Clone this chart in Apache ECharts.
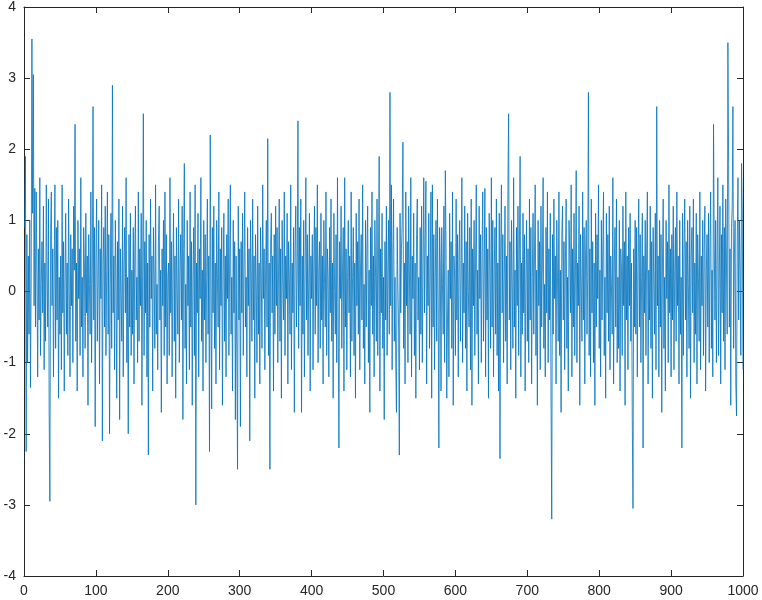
<!DOCTYPE html>
<html>
<head>
<meta charset="utf-8">
<script src="https://cdn.jsdelivr.net/npm/echarts@6/dist/echarts.min.js"></script>
<style>
  html, body { margin: 0; padding: 0; background: #fff; }
  #chart { width: 762px; height: 600px; }
</style>
</head>
<body>
<div id="chart"></div>
<script>
// values, 50 samples per row (x = 1..1000)
const r0 = [0.9,1.9,-2.25,0.8,-1.0,0.5,-0.6,1.0,-1.35,0.2,3.55,1.1,3.05,-0.2,1.45,-0.5,1.4,0.3,-1.2,0.6,-0.4,1.6,-0.9,0.1,0.7,-0.3,1.2,-1.1,0.4,-0.7,1.5,0.2,-0.5,1.3,-1.7,-2.95,0.8,1.4,-0.2,0.6,-1.2,0.3,1.5,-0.8,0.9,-0.4,1.0,-1.5,0.2,-0.6]
const r1 = [0.5,-1.1,1.5,-0.3,0.7,-1.4,0.2,1.1,-0.6,0.4,-0.9,1.3,0.0,-1.2,0.8,-0.2,0.6,-1.0,1.2,0.3,2.35,-0.7,0.4,-1.4,1.0,-0.1,0.6,-0.9,1.6,-0.5,0.2,-1.2,0.9,0.4,-0.8,1.1,-0.3,0.5,-1.6,0.8,0.1,-0.6,1.4,-1.0,0.3,2.6,-0.4,0.9,-1.9,0.5]
const r2 = [1.3,-0.7,0.2,1.0,-1.3,0.6,-0.1,1.5,-2.1,0.4,0.9,-0.5,1.2,-0.9,0.3,1.4,-0.6,0.8,-2.0,0.1,1.1,-0.8,2.9,-0.3,0.5,-1.1,1.0,0.2,-1.5,0.7,-0.4,1.3,-1.8,0.6,0.0,-0.7,1.2,-1.2,0.4,0.9,-0.3,1.6,-1.0,0.2,-2.0,0.8,-0.5,1.1,-0.9,0.3]
const r3 = [-0.6,0.9,-1.3,0.5,1.2,-0.4,0.2,-1.0,1.4,-0.7,0.6,-0.2,1.1,-1.6,0.3,2.5,-0.9,0.7,-0.3,1.0,-1.2,0.4,-2.3,0.8,-0.5,1.3,-0.1,0.5,-1.4,0.9,0.2,-0.8,1.5,-0.6,0.1,-1.1,0.7,1.2,-0.4,0.3,-1.7,0.6,-0.2,1.0,-0.9,1.4,-0.5,0.8,-1.3,0.2]
const r4 = [0.4,-0.9,1.6,-0.3,0.7,-1.2,0.2,1.1,-0.7,0.5,-1.5,0.9,0.0,-0.6,1.3,-1.0,0.3,0.8,-0.4,1.2,-1.8,0.6,1.8,-0.8,0.1,-1.3,1.0,-0.2,0.5,-1.1,1.4,-0.5,0.7,-1.6,0.2,0.9,-0.9,1.5,-3.0,0.4,-0.3,1.1,-1.2,0.6,-0.1,1.6,-0.7,0.3,-1.4,1.0]
const r5 = [-0.4,0.8,-1.0,0.2,1.3,-0.6,0.5,-2.25,2.2,0.1,-1.65,0.9,-0.3,1.2,-0.8,0.4,-1.3,1.0,0.2,-0.5,1.4,-1.1,0.6,-0.2,0.9,-1.6,0.3,1.1,-0.7,0.5,-1.2,0.8,-0.1,1.3,-0.9,0.4,1.5,-0.6,0.2,-1.4,1.0,-0.3,0.7,-1.8,0.5,-0.8,-2.5,1.2,-0.4,0.6]
const r6 = [-1.9,0.7,-0.3,1.1,-0.9,0.4,1.4,-0.5,0.2,-1.2,0.9,-0.2,0.6,-2.1,1.0,0.3,-0.7,1.3,-0.4,0.5,-1.5,0.8,0.1,-1.0,1.2,-0.6,0.4,-1.3,0.9,0.2,-0.8,1.5,-0.1,0.6,-1.1,0.3,1.0,-0.5,2.15,-0.9,0.4,-2.5,0.7,1.1,-0.3,0.5,-1.4,0.8,-0.6,1.2]
const r7 = [-0.2,0.9,-1.0,0.3,1.3,-0.7,0.6,-1.5,1.0,0.1,-0.4,1.4,-0.9,0.5,-0.1,1.1,-1.3,0.7,0.2,-0.6,1.5,-1.1,0.4,-0.3,0.9,-1.7,0.6,1.2,-0.5,0.2,2.4,-0.8,0.9,-0.2,1.3,-1.7,0.5,-0.6,1.0,-1.2,0.3,1.6,-0.4,0.8,-0.9,0.2,1.1,-1.4,0.5,-0.1]
const r8 = [0.8,-1.1,0.4,1.2,-0.6,0.9,-0.2,1.5,-1.0,0.3,0.7,-0.8,1.1,-0.4,0.5,-1.3,1.0,0.1,-0.5,1.4,-0.9,0.6,0.2,-1.2,0.9,-0.3,1.3,-0.7,0.4,-1.5,1.1,0.0,-0.6,0.8,-1.0,1.6,-0.4,-2.2,0.7,-0.1,1.2,-0.8,0.3,0.9,-1.4,1.6,-0.5,0.6,-1.1,0.2]
const r9 = [1.0,-0.3,0.5,-1.2,1.4,-0.7,0.2,0.9,-0.9,0.4,-1.5,1.1,-0.2,0.7,-0.6,1.3,-1.1,0.3,0.8,-0.4,1.5,-0.8,0.1,-1.3,1.0,-0.5,0.6,1.2,-1.0,0.3,-1.7,0.9,-0.2,1.4,-0.6,0.5,-1.2,1.0,0.2,-0.7,1.3,-0.9,0.4,1.9,-1.4,0.6,-0.3,1.1,-0.8,0.2]
const r10 = [-1.8,0.7,-0.4,1.2,-0.9,0.3,1.0,-0.6,2.8,-0.2,1.5,-1.1,0.5,1.3,-0.7,0.2,-1.0,-1.7,0.9,0.1,-0.5,-2.3,1.1,-0.3,0.6,1.0,2.1,-0.8,0.4,-1.3,1.4,-0.2,0.7,-1.0,1.2,0.3,-0.6,1.6,-1.2,0.5,-0.1,1.1,-0.9,0.4,-1.5,0.8,1.3,-0.4,0.2,-1.1]
const r11 = [0.9,-0.6,1.2,-1.0,0.4,1.6,-0.3,0.7,1.55,-1.3,0.5,-0.2,1.1,-0.8,0.3,1.4,-1.5,1.5,-0.5,0.8,-1.1,0.2,1.0,-0.7,1.3,-0.2,-2.2,0.9,0.4,-1.4,0.9,0.1,-0.6,1.2,-1.0,1.7,0.6,-1.5,-0.4,0.3,-1.2,1.1,-0.1,0.7,-0.8,1.4,-1.6,0.5,0.2,-0.9]
const r12 = [1.3,-0.4,0.8,-1.2,0.5,1.0,-0.7,0.2,1.6,-1.0,0.4,-0.3,1.2,-0.8,0.7,-1.4,1.1,0.0,-0.5,0.9,-1.1,1.3,-1.6,0.6,-0.2,1.0,-0.9,0.4,1.5,-0.6,0.3,-1.3,1.2,-0.1,0.8,-1.0,0.5,1.4,-0.7,0.2,1.45,-1.2,0.9,-0.4,0.6,-1.5,1.1,0.3,-0.8,1.6]
const r13 = [-0.5,1.0,-1.2,0.3,0.9,-0.6,1.3,-0.9,0.4,-1.4,1.1,-2.35,0.6,1.5,-0.3,0.8,-1.0,0.2,1.2,-0.7,0.5,-1.3,1.4,2.5,-0.4,0.7,-1.1,1.0,0.1,-0.8,1.6,-0.5,0.3,-1.5,0.9,-0.2,1.2,-0.9,0.6,1.9,-1.2,0.4,-0.6,1.1,-0.3,0.8,-1.4,0.2,1.0,-0.7]
const r14 = [0.6,-1.0,1.3,-0.4,0.9,-1.3,0.2,1.1,-0.6,0.5,1.5,-0.9,0.3,-1.6,1.0,-0.2,0.7,-1.1,1.2,-0.5,0.4,1.6,-0.8,0.1,-1.2,0.9,-0.3,1.4,-1.0,0.6,-0.4,1.1,-1.5,-3.2,0.8,-0.6,1.3,-0.1,0.5,-1.3,1.0,0.2,-0.7,1.4,-0.9,0.3,-1.7,0.8,1.2,-0.4]
const r15 = [0.7,-1.1,0.4,1.3,-0.8,0.2,-1.4,1.0,0.5,-0.3,1.5,-1.2,0.6,-0.5,1.1,-0.9,0.3,1.7,-1.0,0.4,-0.2,1.2,-1.6,0.8,0.1,-0.7,1.4,-0.4,0.9,-1.3,0.5,1.0,-0.6,0.2,2.8,-0.9,0.6,-1.2,1.3,-0.3,0.7,-1.0,0.4,-1.6,1.1,-0.5,0.8,-0.1,1.5,-0.8]
const r16 = [0.3,-1.2,1.0,-0.4,0.6,1.4,-0.9,0.2,-1.5,1.1,-0.3,0.8,-0.7,1.2,-1.1,0.5,0.1,-0.6,1.6,-1.3,0.4,0.9,-0.5,1.3,-1.0,0.2,-0.8,1.0,-1.4,0.6,0.3,-0.9,1.2,-0.2,0.7,-1.6,1.4,-0.4,0.5,-1.1,0.9,-0.2,1.1,-0.7,0.4,-1.8,-3.05,0.6,-0.5,1.0]
const r17 = [-0.6,0.9,-1.2,0.4,1.3,-0.5,0.8,-1.0,0.2,1.1,-2.2,0.5,-0.3,1.0,-0.9,0.6,1.4,-1.3,0.3,-0.4,1.2,-0.8,0.7,-1.5,0.9,0.1,-0.6,1.1,-1.1,2.6,-0.2,0.5,-1.2,1.0,-0.5,0.8,-1.7,0.4,1.3,-0.8,0.2,-1.4,1.0,-0.1,0.7,-1.0,1.5,-0.3,0.6,-1.2]
const r18 = [0.8,-0.4,1.2,-1.1,0.3,0.9,-0.7,1.4,-0.2,0.5,-1.3,1.0,-0.6,0.2,-2.2,1.1,-0.9,0.6,1.3,-0.4,0.7,-1.2,1.0,0.1,-0.8,1.2,-1.5,0.5,0.9,-0.3,1.3,-1.0,0.4,-0.6,1.1,-1.3,0.8,0.2,-0.7,1.4,-1.1,0.5,-0.2,1.0,-0.9,0.6,1.2,-1.4,0.3,0.8]
const r19 = [-0.5,1.1,-1.0,0.6,1.4,-0.8,0.3,-1.2,2.35,0.7,-0.4,1.0,-1.0,0.5,1.6,-0.9,0.2,1.2,-1.3,0.8,-0.3,1.5,-0.7,0.9,-1.1,1.3,0.4,-0.6,3.5,1.8,-0.5,0.6,-1.6,0.9,1.2,2.6,-0.8,0.5,1.0,-1.3,-1.75,0.7,1.6,-0.4,1.0,0.3,-0.9,1.8,1.1,-1.1]

const values = [].concat(r0, r1, r2, r3, r4, r5, r6, r7, r8, r9,
  r10, r11, r12, r13, r14, r15, r16, r17, r18, r19)
const xTicks = [0, 100, 200, 300, 400, 500, 600, 700, 800, 900, 1000]
const yTicks = [-4, -3, -2, -1, 0, 1, 2, 3, 4]

const chart = echarts.init(document.getElementById('chart'))

const labelStyle = { color: '#262626', fontSize: 14, fontFamily: 'Liberation Sans, Arial, sans-serif', margin: 8 }

function axis (extra, showLabel) {
  return Object.assign({
    type: 'value',
    axisLine: { show: true, onZero: false, lineStyle: { color: '#262626', width: 1 } },
    axisTick: { show: true, inside: true, length: 6, lineStyle: { color: '#262626' } },
    splitLine: { show: false },
    axisLabel: showLabel ? Object.assign({ formatter: v => String(v) }, labelStyle) : { show: false }
  }, extra)
}

const xRange = { min: xTicks[0], max: xTicks[xTicks.length - 1], interval: 100 }
const yRange = { min: yTicks[0], max: yTicks[yTicks.length - 1], interval: 1 }

chart.setOption({
  animation: false,
  grid: { left: 24, right: 19, top: 7, bottom: 24 },
  xAxis: [
    axis(Object.assign({ position: 'bottom' }, xRange), true),
    axis(Object.assign({ position: 'top' }, xRange), false)
  ],
  yAxis: [
    axis(Object.assign({ position: 'left' }, yRange), true),
    axis(Object.assign({ position: 'right' }, yRange), false)
  ],
  series: [{
    type: 'line',
    data: values.map((v, i) => [i + 1, v]),
    showSymbol: false,
    lineStyle: { color: '#0072BD', width: 0.8 },
    itemStyle: { color: '#0072BD' }
  }]
})
</script>
</body>
</html>
